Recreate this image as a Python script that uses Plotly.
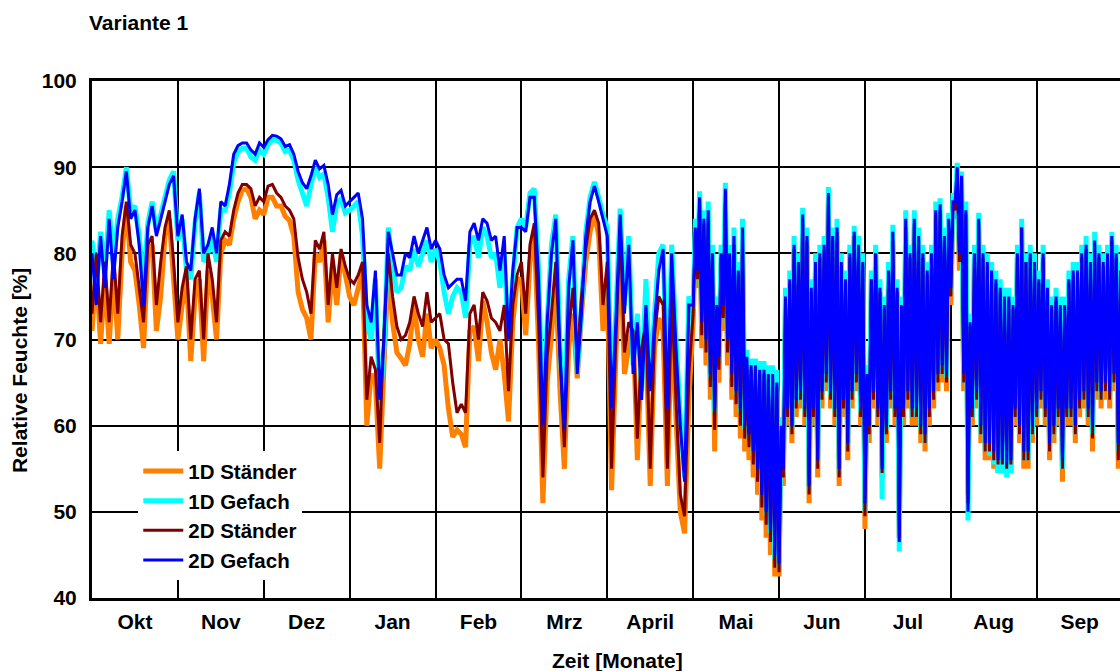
import plotly.graph_objects as go

MONTHS = ["Okt", "Nov", "Dez", "Jan", "Feb", "Mrz", "April", "Mai", "Jun", "Jul", "Aug", "Sep"]
Y_TICKS = [40, 50, 60, 70, 80, 90, 100]

# one list of readings per month (evenly spaced within the month);
# in the dense summer months the readings alternate daily low / high
ST_1D = [
    [71, 78, 69.5, 77, 69.5, 78, 70, 80, 85.5, 79, 78, 74, 69, 80, 81, 71, 75, 82, 84, 77],
    [70, 74, 77, 67.5, 75, 77, 67.5, 78, 75, 70, 80, 81.5, 81, 84, 86, 87.3, 87.5, 86.5, 84, 85],
    [84.5, 86.5, 86.5, 85.5, 85.5, 84.3, 83.8, 82, 75.5, 73.5, 72.5, 70, 80, 79, 81.5, 72, 78.5, 74, 80, 77.5],
    [75, 74, 76, 78, 60, 66, 65, 55, 67, 78.5, 72, 68.5, 67.8, 67, 69.5, 74, 70, 68, 73, 69],
    [70, 69, 67, 62, 58.7, 59.5, 59, 57.5, 71, 71.5, 67.5, 74.5, 72, 68.5, 66.5, 70, 66, 60.5, 72, 77],
    [77, 70.5, 79, 82, 69.5, 51, 65, 70.5, 77, 64, 55, 69, 73, 65.5, 73, 79, 82.5, 84.7, 82, 71],
    [77, 52.5, 68, 81.5, 66, 69, 72, 56, 68, 70, 53, 69, 72.5, 71, 53, 73, 61, 50, 47.5, 63],
    [72, 82, 76, 85, 69, 82.5, 67, 83, 63, 78, 57, 72, 65, 79, 71, 84, 67, 78, 63, 80,
     61, 77, 58.5, 80, 57, 66.5, 56, 66, 54, 65.5, 52, 65, 49, 65, 47, 64.5, 45, 64.5, 42.5, 64],
    [42.5, 59, 53, 74, 60, 76.5, 58, 80, 61, 78.5, 62, 83.5, 60, 81, 51, 75, 60, 78.5, 54, 79,
     62, 80.5, 64, 86, 62, 81.5, 60, 82, 53, 78.5, 61, 77, 56, 80.5, 62, 82, 64, 80.5, 60, 78.5],
    [48, 65, 58, 77, 62, 80.5, 60, 75.5, 54, 73, 58, 77.5, 62, 81, 60, 75.5, 47, 73, 60, 82.5,
     62, 79.5, 60, 83, 60, 81, 58, 79.5, 57, 77, 60, 79, 62, 84, 64, 84.5, 65, 81, 64, 82],
    [74, 85, 84, 89, 78, 88, 64, 84, 52, 71, 60, 79.5, 62, 83, 58, 79.5, 56, 78.5, 56, 77.5,
     55, 76.5, 54.5, 75.5, 54.5, 74.5, 54.5, 74, 54.5, 73.5, 60, 79.5, 58, 83.3, 55, 79, 55, 79.5, 58, 78.5],
    [60, 76, 62, 79, 60, 75, 56, 73, 58, 74, 60, 73, 53.5, 73, 60, 76, 60, 77, 58, 77,
     61, 79, 62, 80, 60, 78, 57, 80.5, 63, 79, 62, 78, 63, 79, 62, 81, 64, 79, 55, 77],
]

GF_1D = [
    [81.5, 76, 82.5, 78, 85, 79, 84, 86.5, 90, 85, 85.5, 82, 76, 83.5, 86, 82.5, 84.5, 86.5, 88.5, 89.5],
    [81.5, 84, 78, 77, 83.5, 87, 79, 80, 82, 79, 85, 85, 87, 90.5, 91.8, 92.2, 92.2, 91.2, 90.8, 92],
    [91.5, 92.6, 93.2, 93.1, 92.8, 91.8, 92, 90.8, 88.5, 87, 85.5, 88, 90, 88.8, 89.2, 86.5, 82.5, 85.8, 86.3, 84.7],
    [85, 85.5, 86, 82, 72, 70, 77, 62, 69, 83, 78.5, 75.5, 76, 78.5, 78, 80.5, 78.5, 80, 81.5, 79],
    [80.5, 79, 75.5, 73, 75, 76, 75.5, 72.5, 81, 82, 79.5, 83, 82, 79.5, 80, 76, 80, 70, 77, 83],
    [84, 83, 87, 87.5, 78, 60, 72, 81, 84.5, 69, 60, 77, 82, 66, 74, 82.5, 86.5, 88.3, 86.5, 84.5],
    [83, 63, 73, 85.2, 74, 82, 67, 73, 64, 77, 65, 73, 80, 81, 63, 81, 70, 61, 54, 75],
    [73.5, 84, 77.5, 87.2, 71.5, 85, 69.5, 86, 65.5, 81, 61.5, 75, 67.5, 81, 73.5, 88.2, 69.5, 81, 65.5, 83,
     63.5, 79, 61.5, 84, 59.5, 68.8, 58.5, 67.8, 56.5, 67.8, 54.5, 67.5, 51.5, 67.5, 49.5, 67, 47.5, 67, 44.5, 66.5],
    [43.5, 61, 54.5, 76, 61.5, 78, 59.5, 82, 62.5, 80, 63.5, 85.3, 61.5, 83, 52.5, 77, 61.5, 80, 55.5, 81,
     63.5, 82, 65.5, 87.7, 63.5, 83, 61.5, 84, 54.5, 80, 62.5, 78, 57.5, 81, 63.5, 83.2, 65.5, 82, 61.5, 80],
    [50, 67, 59.5, 78, 63.5, 81, 61, 77, 51.5, 75, 59.5, 79, 63.5, 83.3, 61.5, 77, 45.4, 75, 61.5, 85,
     63.5, 81, 61, 85, 61.5, 83, 59.5, 81, 58, 79, 61.5, 81, 63.5, 86, 65.5, 86.4, 66.5, 83, 65.5, 84.7],
    [75.5, 87, 85.5, 90.5, 79.5, 89.5, 65, 86, 49, 73, 61, 81, 63, 84.7, 59, 81, 57, 80, 56.5, 79,
     55.5, 78, 54.5, 77, 54.5, 76, 54, 76, 54.5, 75, 61, 81, 59, 84, 56, 80, 56, 81, 59, 80],
    [61, 78, 63, 81, 61, 77, 57, 75, 59, 76, 61, 75, 55, 75, 61, 78, 61, 79, 59, 79,
     62, 81, 63, 82, 61, 80, 59, 82.5, 64, 81, 63, 80, 64, 81, 63, 82.5, 65, 81, 57, 79],
]

ST_2D = [
    [73, 80, 72, 79, 72, 80, 73, 82, 86, 81, 80, 76, 72, 81, 82, 74, 79, 83, 85, 79],
    [72, 76, 78.5, 70, 77, 78, 70, 80, 77, 72, 81.5, 82.5, 82, 85, 87, 88, 88, 87.5, 85.5, 86.5],
    [86, 87.8, 88, 87, 86.5, 85.5, 85, 84, 79.5, 77, 75.5, 73, 81.5, 80.5, 82.5, 74, 80, 76, 80.5, 78.5],
    [77, 76.5, 77.5, 79, 63, 68, 66.5, 58, 71, 80, 75, 71.5, 70, 70.5, 72, 75, 73, 71.5, 75.5, 72],
    [72.5, 73, 70, 69.5, 65, 61.5, 62.5, 61.5, 73, 74, 70, 75.5, 74.5, 72.5, 72, 71, 74, 64, 74, 77.5],
    [79, 73, 81, 83.5, 72, 54, 68, 73, 79, 68, 57.5, 71, 76, 68, 75, 80.5, 84, 85, 83.5, 74],
    [79, 55, 70, 83, 68.5, 72, 71, 58.5, 69, 72, 55, 70.5, 75, 74, 55, 75, 63, 52, 49.5, 66],
    [73, 82.5, 77, 86, 70.5, 83.5, 68.5, 84, 64.5, 79.5, 59.5, 73.5, 66.5, 79.5, 72.5, 86, 68.5, 79.5, 64.5, 81,
     62.5, 77.5, 60, 81.5, 58.5, 67, 57.5, 66.5, 55.5, 66.5, 53.5, 66, 50.5, 66, 48.5, 65.5, 46.5, 65.5, 43.5, 64.5],
    [43, 59.5, 54, 74.5, 61, 76.5, 59, 80.5, 62, 78.5, 63, 84, 61, 81.5, 52, 75.5, 61, 78.5, 55, 79.5,
     63, 80.5, 65, 86.5, 63, 81.5, 61, 82.5, 54, 78.5, 62, 76.5, 57, 79.5, 63, 82, 65, 80.5, 61, 78.5],
    [49.5, 65.5, 59, 77, 63, 80, 61, 75.5, 54.5, 73.5, 59, 77.5, 63, 81.5, 61, 75.5, 47, 73.5, 61, 83,
     63, 79.5, 61, 83.5, 61, 81.5, 59, 79.5, 58, 77.5, 61, 79.5, 63, 84.5, 65, 85, 66, 81.5, 65, 83],
    [75, 85.5, 85, 88.8, 79, 88.5, 65, 84.5, 51, 71.5, 61, 79.5, 63, 83.5, 59, 79.5, 57, 78.5, 57, 77.5,
     56, 76.5, 55.5, 75.5, 55.5, 74.5, 55, 74.5, 55.5, 73.5, 61, 79.5, 59, 83, 56, 79, 56, 79.5, 59, 78.5],
    [61, 76.5, 63, 79.5, 61, 75.5, 57, 73.5, 59, 74.5, 61, 73.5, 55, 73.5, 61, 76.5, 61, 77.5, 59, 77.5,
     62, 79.5, 63, 80.5, 61, 78.5, 58.5, 81, 64, 79.5, 63, 78.5, 64, 79.5, 63, 81.5, 65, 79.5, 56, 77.5],
]

GF_2D = [
    [80, 74, 82, 76, 84, 77, 83, 86, 89.5, 84, 85, 81, 74, 83, 85.5, 82, 84, 86, 88, 89],
    [82, 84.5, 79, 78, 84, 87.5, 80, 81, 83, 80, 86, 85.5, 88, 91.5, 92.5, 92.8, 92.8, 92, 91.5, 92.8],
    [92.3, 93.2, 93.7, 93.6, 93.3, 92.4, 92.6, 91.5, 89.5, 88.2, 87.5, 89, 90.8, 89.8, 90.2, 88, 84.5, 86.8, 87.3, 85.5],
    [86, 86.5, 87, 84, 74, 72, 78, 63, 70, 82.5, 80, 77.5, 77.5, 80, 79.5, 82, 80, 81.5, 83, 80.5],
    [81.5, 80.5, 77.5, 76, 76.5, 77, 77, 74.5, 82.5, 83.5, 81.5, 84, 83.5, 81.5, 82, 78, 82, 70, 78, 83],
    [83, 82.5, 86.5, 86.5, 77, 60, 72, 80, 84, 68, 59.5, 76, 81.5, 66, 73, 82, 86, 87.8, 86, 84],
    [82, 62, 72, 84.5, 73, 81, 66, 72, 63, 74, 64, 72, 78, 80.5, 62, 80, 69, 60, 53.5, 74],
    [74, 83, 78, 86.5, 72, 84, 70, 85, 66, 80, 62, 74, 68, 80, 74, 87.5, 70, 80, 66, 82,
     64, 78, 62, 83, 60, 68, 59, 67, 57, 67, 55, 66.5, 52, 66.5, 50, 66, 48, 66, 45, 65],
    [44, 60, 55, 75, 62, 77, 60, 81, 63, 79, 64, 84.5, 62, 82, 53, 76, 62, 79, 56, 80,
     64, 81, 66, 87, 64, 82, 62, 83, 55, 79, 63, 77, 58, 80, 64, 82.5, 66, 81, 62, 79],
    [51, 66, 60, 77, 64, 80, 62, 76, 55, 74, 60, 78, 64, 82.5, 62, 76, 46.5, 74, 62, 84,
     64, 80, 62, 84, 62, 82, 60, 80, 59, 78, 62, 80, 64, 85, 66, 85.7, 67, 82, 66, 84],
    [76, 86, 86, 90, 80, 89, 66, 85, 50, 72, 62, 80, 64, 84, 60, 80, 58, 79, 58, 78,
     57, 77, 56, 76, 56, 75, 55.5, 75, 56, 74, 62, 80, 60, 83, 57, 79, 57, 80, 60, 79],
    [62, 77, 64, 80, 62, 76, 58, 74, 60, 75, 62, 74, 56, 74, 62, 77, 62, 78, 60, 78,
     63, 80, 64, 81, 62, 79, 60, 81.5, 65, 80, 64, 79, 65, 80, 64, 82, 66, 80, 58, 78],
]

SERIES = [
    ("1D Ständer", ST_1D, "#FF8000", 5),
    ("1D Gefach", GF_1D, "#00FFFF", 5),
    ("2D Ständer", ST_2D, "#800000", 3),
    ("2D Gefach", GF_2D, "#0000FF", 3),
]


def flatten(month_lists):
    xs, ys = [], []
    for m, vals in enumerate(month_lists):
        n = len(vals)
        for j, v in enumerate(vals):
            xs.append(m + j / n)
            ys.append(v)
    return xs, ys


FONT = "Liberation Sans, Arial, Helvetica, sans-serif"

fig = go.Figure()
for name, data, color, width in SERIES:
    xs, ys = flatten(data)
    fig.add_trace(go.Scatter(x=xs, y=ys, mode="lines", name=name,
                             line=dict(color=color, width=width, simplify=False)))

fig.update_layout(
    width=1120, height=671, autosize=False,
    margin=dict(l=92, r=0, t=81, b=73),
    paper_bgcolor="white", plot_bgcolor="white",
    font=dict(family=FONT, color="black", size=20),
    showlegend=True,
    legend=dict(x=0.045, y=0.284, xanchor="left", yanchor="top",
                bgcolor="white", borderwidth=0,
                font=dict(family=FONT, size=20.5, color="black", weight="bold"),
                itemwidth=40, tracegroupgap=0),
    xaxis=dict(range=[0, 11.97], showgrid=False, zeroline=False,
               tickmode="array", tickvals=[m + 0.5 for m in range(12)], ticktext=MONTHS,
               ticks="", ticklabelstandoff=3,
               tickfont=dict(family=FONT, size=21, weight="bold"),
               showline=True, linewidth=3, linecolor="black", mirror=True,
               minor=dict(tickvals=list(range(1, 12)), showgrid=True, gridcolor="black",
                          gridwidth=2, ticks="")),
    yaxis=dict(range=[40, 100], tickmode="array", tickvals=Y_TICKS,
               showgrid=True, gridcolor="black", gridwidth=2, zeroline=False,
               ticks="", ticklabelstandoff=8,
               tickfont=dict(family=FONT, size=21, weight="bold"),
               showline=True, linewidth=3, linecolor="black", mirror=False),
    annotations=[
        dict(text="<b>Variante 1</b>", xref="paper", yref="paper",
             x=-0.005, y=1.114, xanchor="left", yanchor="middle", showarrow=False,
             font=dict(family=FONT, size=21)),
        dict(text="<b>Relative Feuchte [%]</b>", xref="paper", yref="paper",
             x=-0.071, y=0.439, xanchor="center", yanchor="middle", showarrow=False,
             textangle=-90, font=dict(family=FONT, size=21)),
        dict(text="<b>Zeit [Monate]</b>", xref="paper", yref="paper",
             x=0.511, y=-0.12, xanchor="center", yanchor="middle", showarrow=False,
             font=dict(family=FONT, size=21)),
    ],
)

fig.write_html("out.html", config={"displayModeBar": False},
               post_script="document.body.style.margin='0px';")
